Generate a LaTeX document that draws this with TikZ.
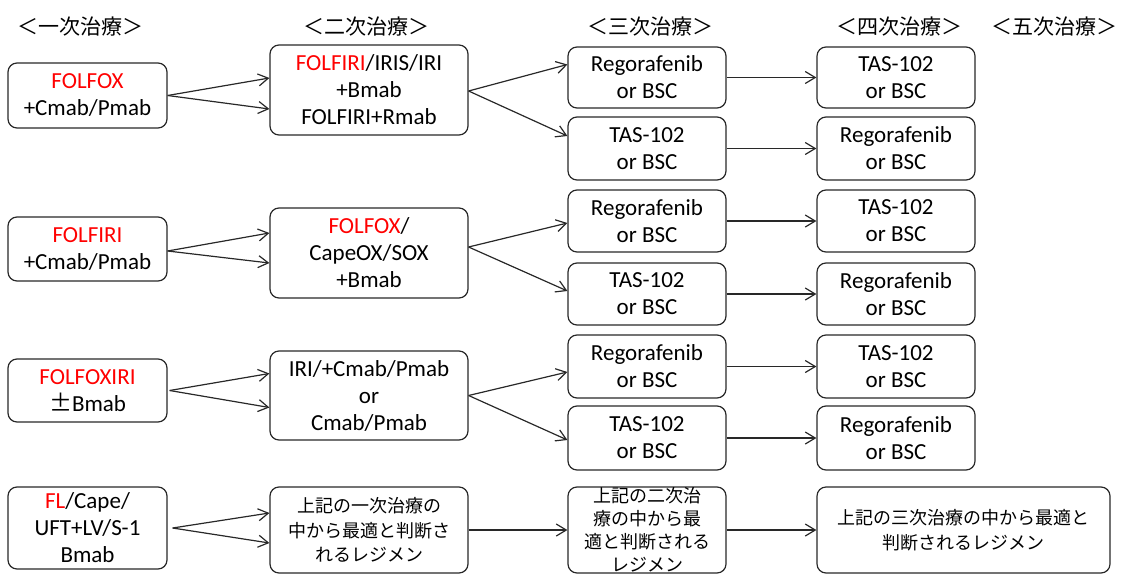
\documentclass[tikz,border=0pt]{standalone}
\usepackage{fontspec}
\setmainfont{Carlito}
\newfontfamily\jp{Noto Sans CJK JP}
\usetikzlibrary{arrows.meta,calc}
\definecolor{hlred}{RGB}{255,0,0}
\definecolor{edge}{RGB}{40,40,40}
\begin{document}
\begin{tikzpicture}[x=1pt,y=-1pt,
  box/.style={draw=edge,line width=1.2pt,rounded corners=9pt,align=center,inner sep=0pt,
    font=\fontsize{23}{27}\selectfont},
  jbox/.style={box,font=\jp\fontsize{18}{24.5}\selectfont},
  hdr/.style={font=\jp\fontsize{21}{24}\selectfont,inner sep=0pt},
  arr/.style={draw=edge,line width=1.2pt,-{Straight Barb[length=10pt,width=12pt]}}]
\useasboundingbox (0,0) rectangle (1123,575);
% headers
\node[hdr] (h1) at (80,27) {＜一次治療＞};
\node[hdr] (h2) at (366,27) {＜二次治療＞};
\node[hdr] (h3) at (650,27) {＜三次治療＞};
\node[hdr] (h4) at (899,27) {＜四次治療＞};
\node[hdr] (h5) at (1054,27) {＜五次治療＞};
% column 1
\node[box,minimum width=159,minimum height=65] (a1) at (87.5,95.5) {\textcolor{hlred}{FOLFOX}\\+Cmab/Pmab};
\node[box,minimum width=159,minimum height=64] (a2) at (87.5,249) {\textcolor{hlred}{FOLFIRI}\\+Cmab/Pmab};
\node[box,minimum width=159,minimum height=63] (a3) at (87.5,390.5) {\textcolor{hlred}{FOLFOXIRI}\\{\jp ±}Bmab};
\node[box,minimum width=159,minimum height=82] (a4) at (87.5,528) {\textcolor{hlred}{FL}/Cape/\\UFT+LV/S-1\\Bmab};
% column 2
\node[box,minimum width=198,minimum height=90] (b1) at (369,90) {\textcolor{hlred}{FOLFIRI}/IRIS/IRI\\+Bmab\\FOLFIRI+Rmab};
\node[box,minimum width=198,minimum height=90] (b2) at (369,253) {\textcolor{hlred}{FOLFOX}/\\CapeOX/SOX\\+Bmab};
\node[box,minimum width=198,minimum height=89] (b3) at (369,395.5) {IRI/+Cmab/Pmab\\or\\Cmab/Pmab};
\node[jbox,minimum width=198,minimum height=86] (b4) at (369,530) {上記の一次治療の\\中から最適と判断さ\\れるレジメン};
% column 3
\node[box,minimum width=158,minimum height=61] (c1a) at (647,77.5) {Regorafenib\\or BSC};
\node[box,minimum width=158,minimum height=63] (c1b) at (647,148.5) {TAS-102\\or BSC};
\node[box,minimum width=158,minimum height=62] (c2a) at (647,221) {Regorafenib\\or BSC};
\node[box,minimum width=158,minimum height=62] (c2b) at (647,294) {TAS-102\\or BSC};
\node[box,minimum width=158,minimum height=63] (c3a) at (647,366.5) {Regorafenib\\or BSC};
\node[box,minimum width=158,minimum height=64] (c3b) at (647,438) {TAS-102\\or BSC};
\node[jbox,minimum width=158,minimum height=86,font=\jp\fontsize{18}{23}\selectfont] (c4) at (647,530) {上記の二次治\\療の中から最\\適と判断される\\レジメン};
% column 4
\node[box,minimum width=158,minimum height=61] (d1a) at (896,77.5) {TAS-102\\or BSC};
\node[box,minimum width=158,minimum height=63] (d1b) at (896,148.5) {Regorafenib\\or BSC};
\node[box,minimum width=158,minimum height=62] (d2a) at (896,221) {TAS-102\\or BSC};
\node[box,minimum width=158,minimum height=62] (d2b) at (896,294) {Regorafenib\\or BSC};
\node[box,minimum width=158,minimum height=63] (d3a) at (896,366.5) {TAS-102\\or BSC};
\node[box,minimum width=158,minimum height=64] (d3b) at (896,438) {Regorafenib\\or BSC};
\node[jbox,minimum width=293,minimum height=86] (d4) at (963.5,530) {上記の三次治療の中から最適と\\判断されるレジメン};
% column 1 -> 2
\draw[arr] ($(a1.east)+(0,0)$) -- ($(b1.west)+(0,-12)$);
\draw[arr] ($(a1.east)+(0,0)$) -- ($(b1.west)+(0,19)$);
\draw[arr] ($(a2.east)+(0,2)$) -- ($(b2.west)+(0,-20)$);
\draw[arr] ($(a2.east)+(0,2)$) -- ($(b2.west)+(0,10)$);
\draw[arr] ($(a3.east)+(2,0)$) -- ($(b3.west)+(0,-22)$);
\draw[arr] ($(a3.east)+(2,0)$) -- ($(b3.west)+(0,12)$);
\draw[arr] ($(a4.east)+(5,0)$) -- ($(b4.west)+(0,-17)$);
\draw[arr] ($(a4.east)+(5,0)$) -- ($(b4.west)+(0,13)$);
% column 2 -> 3
\draw[arr] ($(b1.east)+(0,1)$) -- ($(c1a.west)+(0,-13)$);
\draw[arr] ($(b1.east)+(0,1)$) -- ($(c1b.west)+(0,-12.5)$);
\draw[arr] ($(b2.east)+(0,-6)$) -- ($(c2a.west)+(0,2)$);
\draw[arr] ($(b2.east)+(0,-6)$) -- ($(c2b.west)+(0,-3)$);
\draw[arr] (b3.east) -- ($(c3a.west)+(0,5.5)$);
\draw[arr] (b3.east) -- ($(c3b.west)+(0,2)$);
\draw[arr] (b4.east) -- (c4.west);
% column 3 -> 4
\draw[arr] (c1a.east) -- (d1a.west);
\draw[arr] (c1b.east) -- (d1b.west);
\draw[arr] (c2a.east) -- (d2a.west);
\draw[arr] (c2b.east) -- (d2b.west);
\draw[arr] (c3a.east) -- (d3a.west);
\draw[arr] (c3b.east) -- (d3b.west);
\draw[arr] (c4.east) -- (d4.west);
\end{tikzpicture}
\end{document}
